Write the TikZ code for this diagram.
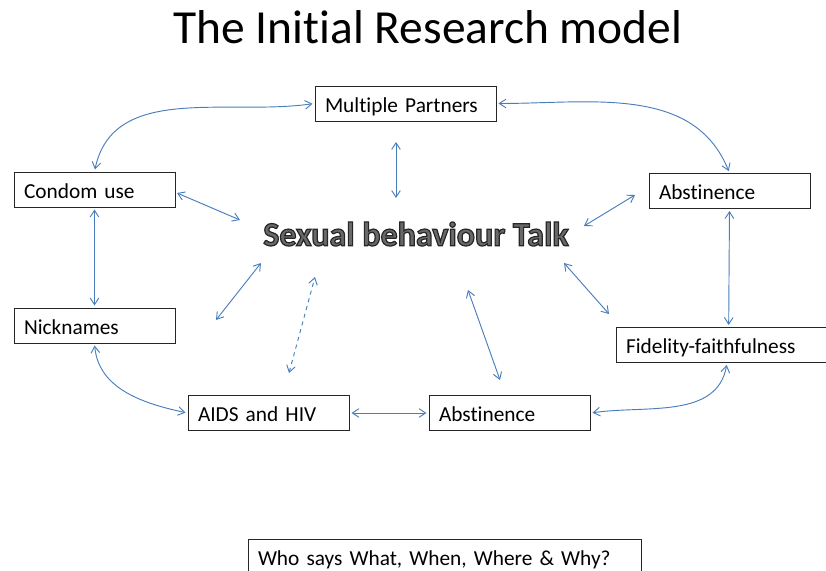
\documentclass[tikz,border=0pt]{standalone}
\usepackage{fontspec}
\setmainfont{Carlito}[Ligatures=NoCommon]
\usetikzlibrary{arrows.meta}

\definecolor{linkblue}{RGB}{74,126,187}
\definecolor{talkgray}{RGB}{105,105,105}

% Bold heading drawn with a gray fill and a dark outline (fill+stroke text mode)
\newcommand\outlinedtext[1]{%
  \textcolor{talkgray}{\special{pdf:code 0.15 0.15 0.15 RG 2 Tr 0.9 w}#1\special{pdf:code 0 Tr}}}

\tikzset{
  x=0.75pt, y=-0.75pt,
  box/.style={draw=black!85, line width=0.75pt, inner xsep=7.5pt, inner ysep=0pt,
    align=left, minimum height=26.25pt, text height=12.8pt, text depth=0pt,
    font=\fontsize{16}{19}\selectfont},
  tip/.tip={Straight Barb[length=5pt,width=6.5pt]},
  link/.style={draw=linkblue, line width=0.7pt, tip-tip},
  gap/.style={shorten <=1.5pt, shorten >=1.5pt}
}

\begin{document}
\begin{tikzpicture}
\useasboundingbox (0,0) rectangle (826,571);

% heading
\node[font=\fontsize{35.6}{40}\selectfont, anchor=base] (title) at (428,43) {The Initial Research model};

% topic boxes
\node[box, text width=120.75pt] (mp)     at (405.5,103.5) {Multiple Partners};
\node[box, text width=105.75pt] (condom) at (94.5,189.5)  {Condom use};
\node[box, text width=105.75pt] (abstA)  at (729.5,191)   {Abstinence};
\node[box, text width=105.75pt] (nick)   at (94.5,325.5)  {Nicknames};
\node[box, text width=144pt]    (fid)    at (722,345)     {Fidelity-faithfulness};
\node[box, text width=105.75pt] (aids)   at (268.5,413)   {AIDS and HIV};
\node[box, text width=105.75pt] (abstB)  at (509.5,413)   {Abstinence};
\node[box, text width=279.75pt, minimum height=27pt] (who) at (444.5,557) {Who says What, When, Where \& Why?};

% central theme
\node[font=\fontsize{25.5}{30}\selectfont\bfseries] (talk) at (416,234) {\outlinedtext{Sexual behaviour Talk}};

% free ends of the spokes around the central theme
\coordinate (mpA) at (396,142);  \coordinate (mpB) at (396,198);
\coordinate (cuA) at (177,193);  \coordinate (cuB) at (240,220);
\coordinate (abA) at (635,195);  \coordinate (abB) at (584,226);
\coordinate (niA) at (216,320);  \coordinate (niB) at (261,263);
\coordinate (daA) at (289,373);  \coordinate (daB) at (315,277);
\coordinate (fiA) at (609,314);  \coordinate (fiB) at (564,263);
\coordinate (a2A) at (500,380);  \coordinate (a2B) at (468,290);

% outer ring of links
\draw[link, gap] (condom.north) to[out=78, in=188] (mp.west);
\draw[link, gap] (mp.east) to[out=0, in=112] (abstA.north);
\draw[link, gap] (condom.south) -- (nick.north);
\draw[link, gap] (abstA.south) -- ([xshift=5pt]fid.north);
\draw[link, gap] (nick.south) to[out=-85, in=168] (aids.west);
\draw[link, gap] (aids.east) -- (abstB.west);
\draw[link, gap] (abstB.east) to[out=8, in=-100] ([xshift=3.75pt]fid.south);

% spokes
\draw[link] (mpA) -- (mpB);
\draw[link] (cuA) -- (cuB);
\draw[link] (abA) -- (abB);
\draw[link] (niA) -- (niB);
\draw[link, dashed] (daA) -- (daB);
\draw[link] (fiA) -- (fiB);
\draw[link] (a2A) -- (a2B);
\end{tikzpicture}
\end{document}
